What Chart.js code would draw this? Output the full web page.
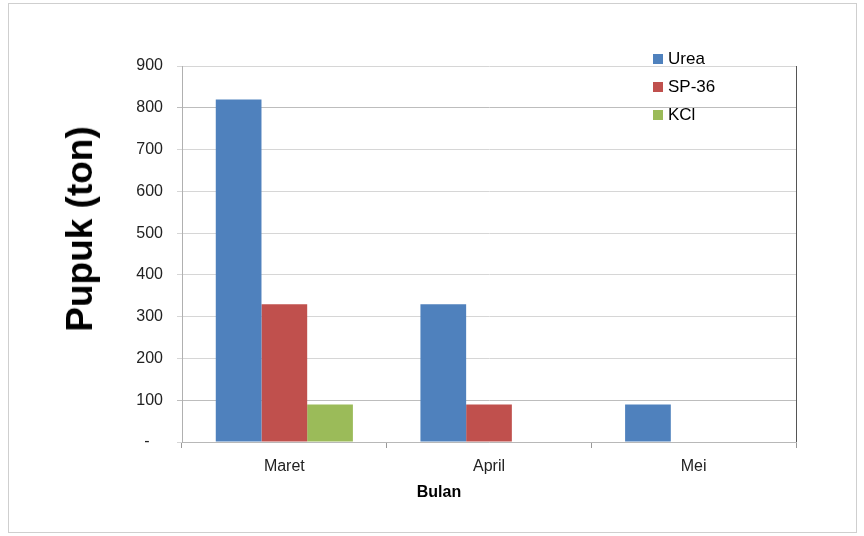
<!DOCTYPE html>
<html>
<head>
<meta charset="utf-8">
<script src="https://cdn.jsdelivr.net/npm/chart.js@4.4.0/dist/chart.umd.min.js"></script>
<style>
  body { margin: 0; background: #fff; font-family: "Liberation Sans", Arial, sans-serif; }
  #wrap { position: relative; width: 864px; height: 536px; overflow: hidden; }
  #frame { position: absolute; left: 8px; top: 3px; width: 849px; height: 530px; border: 1px solid #cfcfcf; box-sizing: border-box; }
  canvas { position: absolute; left: 0; top: 0; }
  #ytitle { position: absolute; left: 80px; top: 229px; transform: translate(-50%, -50%) rotate(-90deg);
    font-size: 37px; font-weight: bold; color: #000; white-space: nowrap; }
  #xtitle { position: absolute; left: 439px; top: 492px; transform: translate(-50%, -50%);
    font-size: 16px; font-weight: bold; color: #000; }
  #legend { position: absolute; left: 653px; top: 47px; font-size: 17px; color: #000; }
  #legend div { height: 28px; line-height: 24px; white-space: nowrap; }
  #legend span { display: inline-block; width: 10px; height: 10px; margin-right: 5px; vertical-align: 0px; }
</style>
</head>
<body>
<div id="wrap">
  <div id="frame"></div>
  <canvas id="chart" width="864" height="536"></canvas>
  <div id="ytitle">Pupuk (ton)</div>
  <div id="xtitle">Bulan</div>
  <div id="legend"></div>
</div>
<script>
// data
const bulan = ["Maret", "April", "Mei"];
const seriesNames = ["Urea", "SP-36", "KCl"];
const urea = [820, 330, 90];
const sp36 = [330, 90, 0];
const kcl = [90, 0, 0];
const yTicks = [0, 100, 200, 300, 400, 500, 600, 700, 800, 900];

const colors = ["#4f81bd", "#c0504d", "#9bbb59"];
const values = [urea, sp36, kcl];

// legend (html)
const legend = document.getElementById("legend");
seriesNames.forEach((name, i) => {
  const row = document.createElement("div");
  row.innerHTML = `<span style="background:${colors[i]}"></span>${name}`;
  legend.appendChild(row);
});

// dark line on the right side of the plot area
const rightEdge = {
  id: "rightEdge",
  afterDraw(chart) {
    const { ctx, chartArea } = chart;
    ctx.save();
    ctx.strokeStyle = "#555";
    ctx.lineWidth = 1;
    ctx.beginPath();
    ctx.moveTo(Math.round(chartArea.right) + 0.5, chartArea.top);
    ctx.lineTo(Math.round(chartArea.right) + 0.5, chartArea.bottom);
    ctx.stroke();
    ctx.restore();
  },
};

new Chart(document.getElementById("chart").getContext("2d"), {
  type: "bar",
  data: {
    labels: bulan,
    datasets: seriesNames.map((name, i) => ({
      label: name,
      data: values[i],
      backgroundColor: colors[i],
      borderWidth: 0,
      categoryPercentage: 0.67,
      barPercentage: 1.0,
    })),
  },
  options: {
    responsive: false,
    animation: false,
    layout: { padding: { left: 100, right: 68, top: 66, bottom: 54 } },
    plugins: {
      legend: { display: false },
      tooltip: { enabled: false },
    },
    scales: {
      x: {
        afterFit: (s) => { s.height = 40; },
        grid: { offset: true, drawOnChartArea: false, drawTicks: true, tickLength: 6, color: "#999" },
        border: { color: "#b8b8b8" },
        ticks: { color: "#222", font: { family: "Liberation Sans", size: 16 }, padding: 9 },
      },
      y: {
        min: 0,
        max: 900,
        afterFit: (s) => { s.width = 82; },
        afterBuildTicks: (s) => { s.ticks = yTicks.map((v) => ({ value: v })); },
        grid: { color: (c) => (c.tick && (c.tick.value === 800 || c.tick.value === 100) ? "#bdbdbd" : "#d6d6d6"), tickLength: 5 },
        border: { color: "#b0b0b0" },
        ticks: {
          color: "#222",
          font: { family: "Liberation Sans", size: 16 },
          padding: 14,
          callback: (v) => (v === 0 ? "-   " : v),
        },
      },
    },
  },
  plugins: [rightEdge],
});
</script>
</body>
</html>
